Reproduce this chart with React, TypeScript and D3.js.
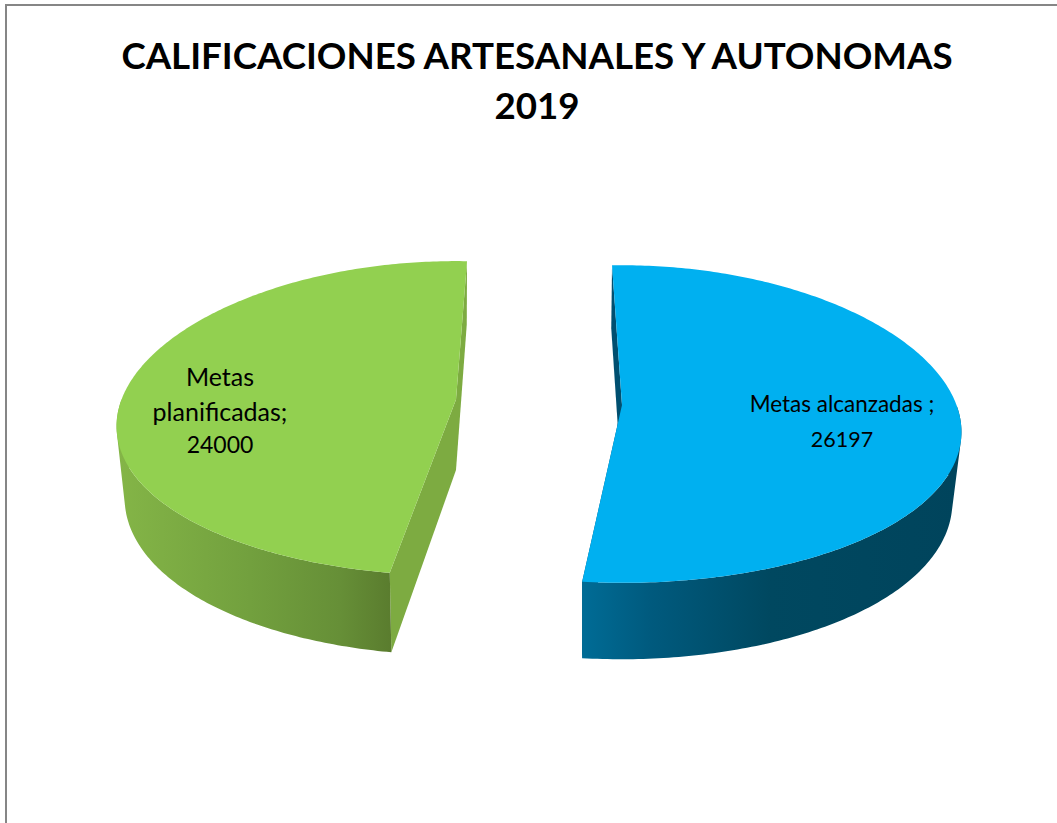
import React from "react";
import * as d3 from "d3";

const categories = ["Metas alcanzadas", "Metas planificadas"];
const values = [26197, 24000];
const titleLines = ["CALIFICACIONES ARTESANALES Y AUTONOMAS", "2019"];
const labelLines = [["Metas alcanzadas ;", "26197"], ["Metas", "planificadas;", "24000"]];
const topColors = ["#00B0F0", "#92D050"];
const cutColors = ["#004f70", "#7dab41"];
const wallStops = [
  [[582, "#006c96"], [650, "#005a7e"], [770, "#004860"], [960, "#00445c"]],
  [[118, "#84b547"], [250, "#72a03e"], [340, "#668f37"], [392, "#5a7c2e"]],
];

const W = 1057;
const H = 823;
const rad = (d: number) => (d * Math.PI) / 180;
const P = 0.12;
const SAG = 8;

const geom = [
  { top: { cx: 622, cy: 405, rx: 337, ry: 156.5 }, bot: { cx: 621, cy: 474, rx: 329, ry: 163 }, shift: 0 },
  { top: { cx: 456, cy: 399.5, rx: 337, ry: 155 }, bot: { cx: 456, cy: 470, rx: 329, ry: 163 }, shift: rad(4) },
];
const labelPos = [
  { x: 842, y: [412, 447], size: [22.5, 21.5] },
  { x: 220, y: [386, 421, 453], size: [25, 25, 23] },
];

type E = { cx: number; cy: number; rx: number; ry: number };
const proj = (e: E, t: number): [number, number] => {
  const f = 1 / (1 + P * Math.cos(t));
  const s = Math.sin(t);
  return [e.cx + e.rx * s * f, e.cy - e.ry * Math.cos(t) * f + SAG * s * s];
};

const pie = d3
  .pie<number>()
  .sort(null)
  .startAngle(rad(-1.9))
  .endAngle(rad(-1.9) + 2 * Math.PI);
const arcs = pie(values);
const line = d3.line();

export default function App() {
  const slices = arcs.map((a, i) => {
    const g = geom[i];
    const t0 = a.startAngle + g.shift;
    const t1 = a.endAngle + g.shift;
    const ts = d3.range(0, 241).map((k) => t0 + ((t1 - t0) * k) / 240);
    const topFace = line([[g.top.cx, g.top.cy], ...ts.map((t) => proj(g.top, t))]) + "Z";
    const wall = ts
      .slice(0, -1)
      .map((t, k) => {
        const q = [proj(g.top, t), proj(g.top, ts[k + 1]), proj(g.bot, ts[k + 1]), proj(g.bot, t)] as [number, number][];
        return { t, q: d3.polygonArea(q) < 0 ? q.reverse() : q };
      })
      .filter((d) => Math.cos(d.t) < 0.05)
      .map((d) => line(d.q) + "Z")
      .join("");
    const cut = (t: number) =>
      line([[g.top.cx, g.top.cy], proj(g.top, t), proj(g.bot, t), [g.bot.cx, g.bot.cy]]) + "Z";
    return { topFace, wall, cutA: cut(t0), cutB: cut(t1) };
  });

  return (
    <svg
      width={W}
      height={H}
      viewBox={`0 0 ${W} ${H}`}
      style={{ position: "absolute", left: 0, top: 0, display: "block" }}
    >
      <defs>
        {wallStops.map((stops, i) => {
          const x0 = stops[0][0] as number;
          const x1 = stops[stops.length - 1][0] as number;
          return (
            <linearGradient key={i} id={`wall${i}`} gradientUnits="userSpaceOnUse" x1={x0} x2={x1} y1={0} y2={0}>
              {stops.map((s, k) => (
                <stop key={k} offset={((s[0] as number) - x0) / (x1 - x0)} stopColor={s[1] as string} />
              ))}
            </linearGradient>
          );
        })}
      </defs>
      <rect x={0} y={0} width={W} height={H} fill="#fff" />
      <rect x={6} y={5} width={W + 20} height={H + 20} fill="#fff" stroke="#868686" strokeWidth={2} />

      {titleLines.map((t, i) => (
        <text
          key={t}
          x={537}
          y={69 + i * 50}
          textAnchor="middle"
          fontFamily="Lato, 'Open Sans', sans-serif"
          fontWeight={700}
          fontSize={36.7}
          fill="#000"
        >
          {t}
        </text>
      ))}

      {slices.map((s, i) => (
        <g key={categories[i]}>
          <path d={s.cutA} fill={cutColors[i]} />
          <path d={s.cutB} fill={cutColors[i]} />
          <path d={s.wall} fill={`url(#wall${i})`} />
          <path d={s.topFace} fill={topColors[i]} />
        </g>
      ))}

      {labelLines.map((lines, i) =>
        lines.map((t, k) => (
          <text
            key={t}
            x={labelPos[i].x}
            y={labelPos[i].y[k]}
            textAnchor="middle"
            fontFamily="Lato, 'Open Sans', sans-serif"
            fontSize={labelPos[i].size[k]}
            fill="#000"
          >
            {t}
          </text>
        ))
      )}
    </svg>
  );
}
